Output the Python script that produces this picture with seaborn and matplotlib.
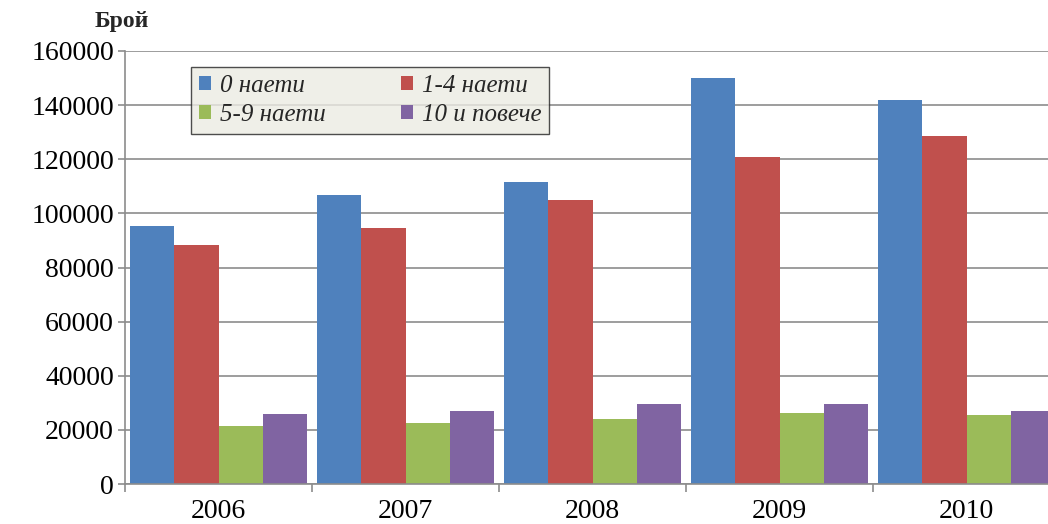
import numpy as np
import pandas as pd
import matplotlib
matplotlib.use("Agg")
import matplotlib.pyplot as plt
import seaborn as sns
from matplotlib.ticker import FixedLocator

# Chart data
years = ["2006", "2007", "2008", "2009", "2010"]
series = ["0 наети", "1-4 наети", "5-9 наети", "10 и повече"]
zero_emp = [95500, 106700, 111500, 150000, 141900]
one_four = [88300, 94500, 104900, 120800, 128500]
five_nine = [21500, 22700, 24100, 26300, 25400]
ten_plus = [25900, 27100, 29500, 29500, 27100]
colors = ["#4F81BD", "#C0504D", "#9BBB59", "#8064A2"]
y_ticks = [0, 20000, 40000, 60000, 80000, 100000, 120000, 140000, 160000]

df = pd.DataFrame({
    "year": years * 4,
    "group": [s for s in series for _ in years],
    "value": zero_emp + one_four + five_nine + ten_plus,
})

sns.set_theme(style="white")
plt.rcParams['font.family'] = ['Liberation Serif', 'DejaVu Serif']

fig = plt.figure(figsize=(10.48, 5.24), dpi=100)
ax = fig.add_axes([125 / 1048, 40 / 524, 935 / 1048, 433 / 524])

sns.barplot(data=df, x="year", y="value", hue="group", order=years,
            hue_order=series, palette=colors, width=0.95, saturation=1,
            linewidth=0, ax=ax, legend=True)

ax.set_xlim(-0.5, 4.5)
ax.set_ylim(0, 160000)
ax.set_yticks(y_ticks)
ax.set_yticklabels([str(t) for t in y_ticks])
ax.yaxis.grid(True, color="#8C8C8C", linewidth=1.2)
ax.set_axisbelow(True)
ax.set_xlabel("")
ax.set_ylabel("")

for side in ["top", "right"]:
    ax.spines[side].set_visible(False)
for side in ["left", "bottom"]:
    ax.spines[side].set_color("#8C8C8C")
    ax.spines[side].set_linewidth(1.2)

ax.tick_params(axis="y", which="major", left=True, length=5, width=1.2,
               color="#8C8C8C", labelsize=20, pad=3)
ax.tick_params(axis="x", which="major", bottom=False, labelsize=20, pad=5)
ax.xaxis.set_minor_locator(FixedLocator(np.arange(-0.5, 5.0, 1.0)))
ax.tick_params(axis="x", which="minor", bottom=True, length=6, width=1.2,
               color="#8C8C8C")
for lab in ax.get_xticklabels() + ax.get_yticklabels():
    lab.set_color("black")

# legend in two rows, filled row-wise
handles, labels = ax.get_legend_handles_labels()
order = [0, 2, 1, 3]
leg = ax.legend([handles[i] for i in order], [labels[i] for i in order],
                ncol=2, loc="upper left", bbox_to_anchor=(191 / 1048, 1 - 67 / 524),
                bbox_transform=fig.transFigure, frameon=True, fancybox=False,
                prop={"family": "Liberation Serif", "style": "italic", "size": 18},
                handlelength=0.5, handleheight=0.5, handletextpad=0.35,
                columnspacing=3.0, labelspacing=0.3, borderpad=0.3,
                borderaxespad=0)
leg.get_frame().set_facecolor("#ECEBE3")
leg.get_frame().set_edgecolor("#222222")
leg.get_frame().set_linewidth(1.0)

fig.text(95 / 1048, 1 - 22 / 524, "Брой", fontsize=17, fontweight="bold",
         va="center", ha="left")

fig.savefig("out.png", dpi=100)
